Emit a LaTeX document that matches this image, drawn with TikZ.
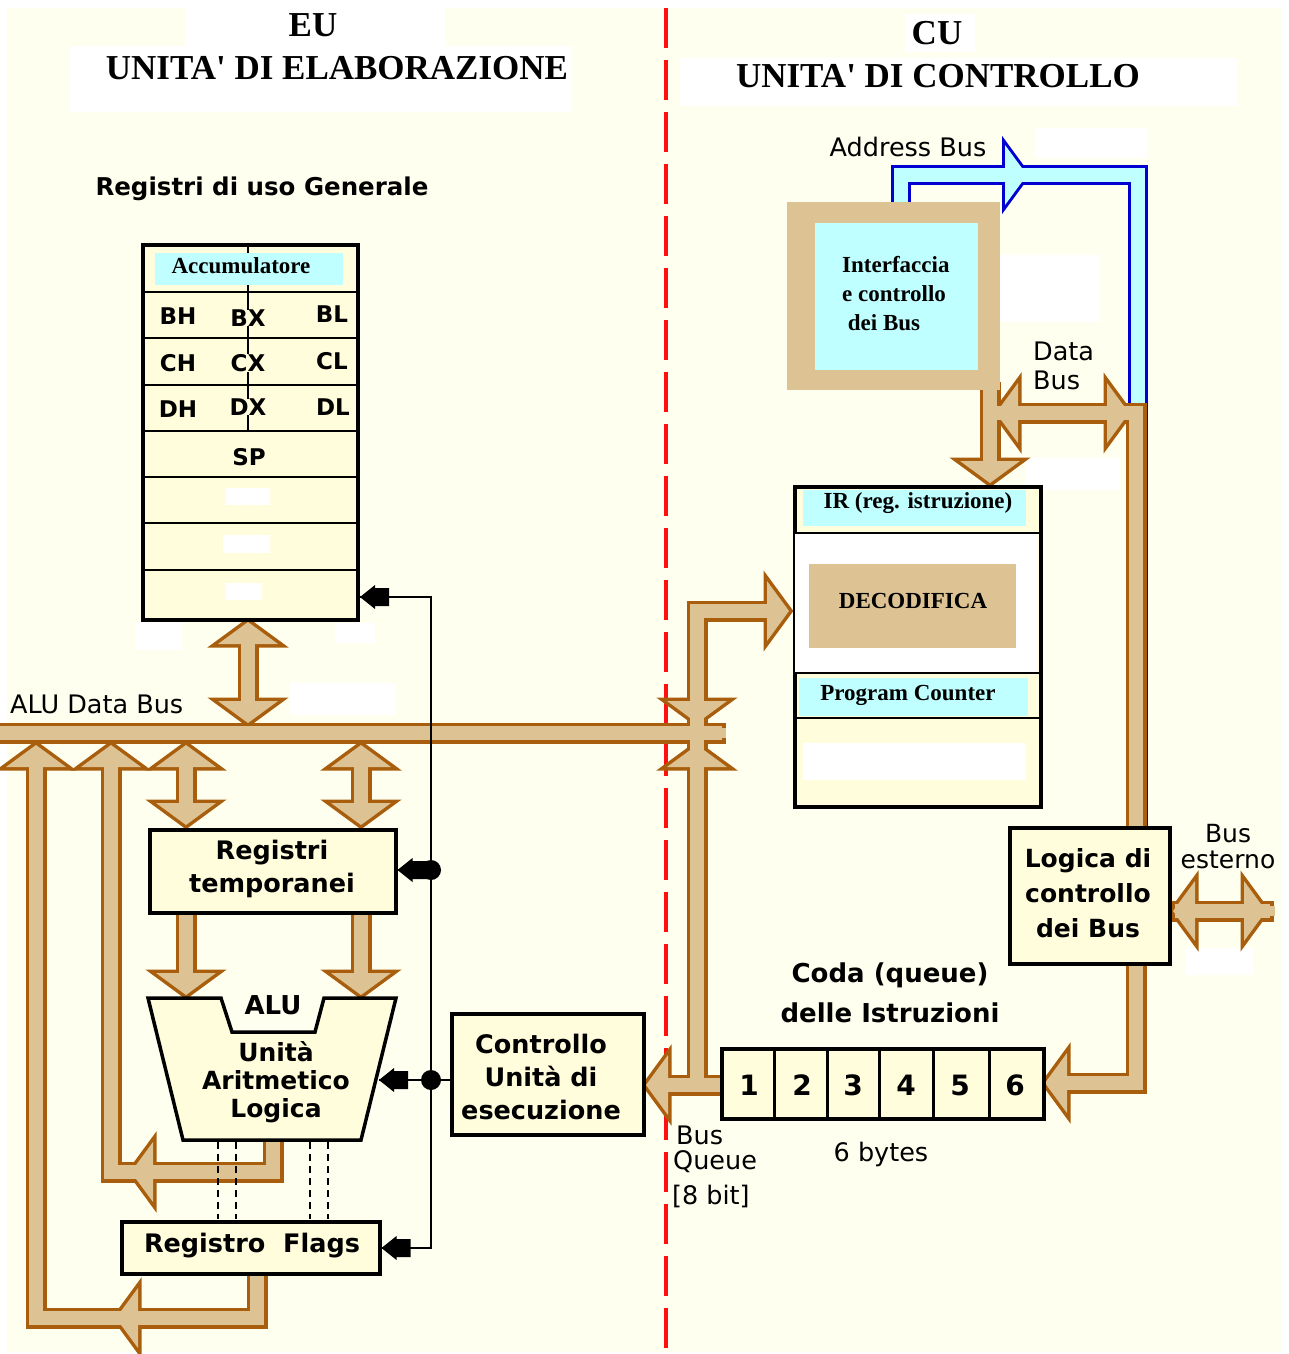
\documentclass[tikz,border=0pt]{standalone}
\usepackage{fontspec}
\setmainfont{Liberation Serif}
\setsansfont{DejaVu Sans}
\newfontfamily\ttlfont{Liberation Serif}
\usetikzlibrary{calc}
\definecolor{bg}{HTML}{FFFFF0}
\definecolor{boxf}{HTML}{FFFDDC}
\definecolor{bust}{HTML}{DDC393}
\definecolor{busb}{HTML}{A85E0C}
\definecolor{cy}{HTML}{C0FFFF}
\definecolor{bl}{HTML}{0000D0}
\definecolor{rd}{HTML}{FF1010}
% bus geometry helpers (pixel coordinates, y downwards)
\newcommand\vsh[3]{(#1-7,#2) rectangle (#1+7,#3)}
\newcommand\hsh[3]{(#2,#1-7) rectangle (#3,#1+7)}
\newcommand\hdU[2]{(#1,#2) -- (#1+30,#2+22) -- (#1-30,#2+22) -- cycle}
\newcommand\hdD[2]{(#1,#2) -- (#1+30,#2-22) -- (#1-30,#2-22) -- cycle}
\newcommand\hdL[2]{(#1,#2) -- (#1+22,#2-30) -- (#1+22,#2+30) -- cycle}
\newcommand\hdR[2]{(#1,#2) -- (#1-22,#2-30) -- (#1-22,#2+30) -- cycle}
\newcommand\adbus[1]{%
  \path[#1] \vsh{901}{168}{210};
  \path[#1] \hsh{175}{894}{1145};
  \path[#1] \vsh{1138}{168}{830};
  \path[#1] \hdR{1027}{175};
}
\newcommand\tanbus[1]{%
  % ALU data bus
  \path[#1] \hsh{733}{-10}{722};
  \path[#1] \vsh{248}{630}{712};
  \path[#1] \hdU{248}{622};
  \path[#1] \hdD{248}{723};
  % branch 1 (flags)
  \path[#1] \hdU{36}{745};
  \path[#1] \vsh{36}{760}{1325};
  \path[#1] \hsh{1318}{29}{264};
  \path[#1] \vsh{257}{1265}{1325};
  \path[#1] \hdL{116}{1318};
  % branch 2 (ALU result)
  \path[#1] \hdU{111}{745};
  \path[#1] \vsh{111}{760}{1179};
  \path[#1] \hsh{1172}{104}{280};
  \path[#1] \vsh{273}{1135}{1179};
  \path[#1] \hdL{131}{1172};
  % branch 3
  \path[#1] \hdU{186}{745};
  \path[#1] \vsh{186}{760}{810};
  \path[#1] \hdD{186}{825};
  \path[#1] \vsh{186}{905}{980};
  \path[#1] \hdD{186}{995};
  % branch 4
  \path[#1] \hdU{361}{745};
  \path[#1] \vsh{361}{760}{810};
  \path[#1] \hdD{361}{825};
  \path[#1] \vsh{361}{905}{980};
  \path[#1] \hdD{361}{995};
  % CU vertical bus
  \path[#1] \vsh{697}{604}{1092};
  \path[#1] \hsh{611}{690}{772};
  \path[#1] \hdR{789}{611};
  \path[#1] \hdD{697}{723};
  \path[#1] \hdU{697}{745};
  \path[#1] \hsh{1085}{660}{725};
  \path[#1] \hdL{646}{1085};
  % data bus
  \path[#1] \vsh{990}{385}{470};
  \path[#1] \hdD{990}{483};
  \path[#1] \hsh{413}{995}{1130};
  \path[#1] \hdL{996}{413};
  \path[#1] \hdR{1129}{413};
  \path[#1] \vsh{1136}{406}{1090};
  \path[#1] \hsh{1083}{1060}{1143};
  \path[#1] \hdL{1045}{1083};
  % bus esterno
  \path[#1] \hsh{911}{1175}{1270};
  \path[#1] \hdL{1173}{911};
  \path[#1] \hdR{1266}{911};
}
\tikzset{
  box/.style={draw=black, fill=boxf, line width=3.5pt, inner sep=0pt},
  busout/.style={fill=bust, draw=busb, line width=7pt},
  busin/.style={fill=bust},
  adout/.style={fill=cy, draw=bl, line width=6pt},
  adin/.style={fill=cy},
  ctl/.style={line width=2pt, draw=black},
  rowline/.style={line width=2pt, draw=black},
  tser/.style={font=\fontsize{23}{29}\selectfont\bfseries\rmfamily, inner sep=0pt, align=center},
  ttl/.style={font=\fontsize{35}{42}\selectfont\bfseries\ttlfont, inner sep=0pt},
  sb/.style={font=\fontsize{25.5}{33}\selectfont\bfseries\sffamily, inner sep=0pt, align=center},
  sr/.style={font=\fontsize{25.5}{29}\selectfont\sffamily, inner sep=0pt, align=left},
  regl/.style={font=\fontsize{23}{26}\selectfont\bfseries\sffamily, inner sep=0pt},
  qnum/.style={font=\fontsize{28}{30}\selectfont\bfseries\sffamily, inner sep=0pt},
  whitep/.style={fill=white},
  ctip/.pic={\fill (0,0) -- (15,12) -- (15,9) -- (29,9) -- (29,-9) -- (15,-9) -- (15,-12) -- cycle;}
}
\begin{document}
\begin{tikzpicture}[x=1pt,y=-1pt]
\useasboundingbox (0,0) rectangle (1289,1354);
\fill[white] (0,0) rectangle (1289,1354);
\fill[bg] (7,8) rectangle (1281,1352);
% white patches of the original
\fill[whitep] (185,8) rectangle (445,46);
\fill[whitep] (70,46) rectangle (572,112);
\fill[whitep] (905,14) rectangle (975,52);
\fill[whitep] (680,58) rectangle (1237,106);
\fill[whitep] (1035,128) rectangle (1147,158);
\fill[whitep] (1000,255) rectangle (1100,322);
\fill[whitep] (1025,458) rectangle (1120,490);
\fill[whitep] (135,622) rectangle (182,650);
\fill[whitep] (335,623) rectangle (375,643);
\fill[whitep] (290,683) rectangle (395,715);
\fill[whitep] (1185,948) rectangle (1253,975);

% dividing line
\draw[rd, line width=4.5pt, dash pattern=on 40pt off 12pt] (666,8) -- (666,1354);

% buses
\adbus{adout}
\adbus{adin}
\tanbus{busout}
\tanbus{busin}
% open bus ends
\fill[bust] (720,728) rectangle (726,738);
\fill[bust] (1266,906) rectangle (1275,916);

% titles
\node[ttl] (t-eu) at (313,25) {EU};
\node[ttl] (t-eu2) at (337,68) {UNITA' DI ELABORAZIONE};
\node[ttl] (t-cu) at (937,33) {CU};
\node[ttl] (t-cu2) at (938,76) {UNITA' DI CONTROLLO};
\node[sb, font=\fontsize{24.5}{28}\selectfont\bfseries\sffamily] (t-rg) at (262,189) {Registri di uso Generale};

% register file
\node[box, line width=4pt, minimum width=215pt, minimum height=375pt, anchor=north west] (rf) at (141,243) {};
\draw[line width=1.5pt] (248,245) -- (248,431);
\foreach \yy in {292,338,385,431,477,523,570}
  \draw[rowline] (rf.west |- 0,\yy) -- (rf.east |- 0,\yy);
\fill[cy] (155,253) rectangle (343,285);
\node[tser] (acc) at (241,266) {Accumulatore};
\node[regl] (bh) at (178,316) {BH};
\node[regl, fill=boxf] (bx) at (248,318) {BX};
\node[regl] (bl) at (332,314) {BL};
\node[regl] (ch) at (178,363) {CH};
\node[regl, fill=boxf] (cx) at (248,363) {CX};
\node[regl] (cl) at (332,361) {CL};
\node[regl] (dh) at (178,409) {DH};
\node[regl, fill=boxf] (dx) at (248,407) {DX};
\node[regl] (dl) at (333,407) {DL};
\node[regl] (sp) at (249,457) {SP};
\fill[whitep] (226,488) rectangle (270,505);
\fill[whitep] (223,535) rectangle (270,553);
\fill[whitep] (226,583) rectangle (262,600);

% EU boxes
\node[box, minimum width=246pt, minimum height=83pt, anchor=north west] (rt) at (148,828) {};
\node[sb] (rt-l) at (272,869) {Registri\\temporanei};
\draw[box, line join=miter] (148,998) -- (221,998) -- (232,1032) -- (315,1032) -- (324,998) -- (396,998) -- (361,1140) -- (183,1140) -- cycle;
\node[sb, font=\fontsize{26}{30}\selectfont\bfseries\sffamily] (alu-t) at (273,1005) {ALU};
\node[sb, font=\fontsize{25}{28}\selectfont\bfseries\sffamily] (alu) at (276,1082) {Unità\\Aritmetico\\Logica};
\coordinate (aluR) at (379,1080);
\node[box, minimum width=258pt, minimum height=52pt, anchor=north west] (fl) at (120,1220) {};
\node[sb] (fl-l) at (252,1246) {Registro~~Flags};
\node[box, minimum width=192pt, minimum height=121pt, anchor=north west] (ce) at (450,1012) {};
\node[sb] (ce-l) at (541,1077) {Controllo\\Unità di\\esecuzione};
\foreach \xx in {218,236,310,328}
  \draw[line width=1.5pt, dash pattern=on 7pt off 5pt] (\xx,1142) -- (\xx,1219);

% control lines
\coordinate (ct) at (431,597);
\coordinate (cb) at (431,1248);
\coordinate (d1) at (431,870);
\coordinate (d2) at (431,1080);
\draw[ctl] (rf.east |- ct) -- (ct) -- (cb) -- (fl.east |- cb);
\draw[ctl] (d1) -- (rt.east |- d1);
\draw[ctl] (ce.west |- d2) -- (aluR);
\pic at (rf.east |- ct) {ctip};
\pic at (rt.east |- d1) {ctip};
\pic at (aluR) {ctip};
\pic at (fl.east |- cb) {ctip};
\fill (d1) circle (10pt);
\fill (d2) circle (10pt);

% CU: interface
\node[fill=bust, inner sep=0pt, minimum width=213pt, minimum height=188pt, anchor=north west] (ifo) at (787,202) {};
\node[fill=cy, inner sep=0pt, minimum width=163pt, minimum height=147pt, anchor=north west] (ifc) at (815,223) {};
\node[tser, align=left, anchor=west] (ifc-l) at (842,294) {Interfaccia\\e controllo\\\ dei Bus};

% IR / decode box
\node[box, line width=4pt, minimum width=246pt, minimum height=320pt, anchor=north west] (ir) at (793,485) {};
\fill[white] (795,534) rectangle (1037,672);
\fill[cy] (803,490) rectangle (1026,526);
\fill[cy] (799,678) rectangle (1028,716);
\fill[white] (803,743) rectangle (1026,780);
\foreach \yy in {533,673,718}
  \draw[rowline] (ir.west |- 0,\yy) -- (ir.east |- 0,\yy);
\node[fill=bust, inner sep=0pt, minimum width=207pt, minimum height=84pt, anchor=north west] (dec) at (809,564) {};
\node[tser] (ir-l) at (918,503) {IR (reg. istruzione)};
\node[tser] (dec-l) at (913,601) {DECODIFICA};
\node[tser] (pc-l) at (908,695) {Program Counter};

% queue
\node[box, minimum width=322pt, minimum height=70pt, anchor=north west] (q) at (720,1047) {};
\foreach \xx in {774,827,879,933,989}
  \draw[line width=3pt] (\xx,0 |- q.north) -- (\xx,0 |- q.south);
\node[qnum] (q1) at (749,1085) {1};
\node[qnum] (q2) at (802,1085) {2};
\node[qnum] (q3) at (853,1085) {3};
\node[qnum] (q4) at (906,1085) {4};
\node[qnum] (q5) at (960,1085) {5};
\node[qnum] (q6) at (1015,1085) {6};
\node[sb, font=\fontsize{26}{40}\selectfont\bfseries\sffamily] (coda) at (890,993) {Coda (queue)\\delle Istruzioni};

% bus logic
\node[box, minimum width=160pt, minimum height=136pt, anchor=north west] (lg) at (1008,826) {};
\node[sb, font=\fontsize{25}{35}\selectfont\bfseries\sffamily] (lg-l) at (1088,893) {Logica di\\controllo\\dei Bus};

% bus labels
\node[sr] (l-ab) at (908,147) {Address Bus};
\node[sr, anchor=west] (l-db) at (1033,366) {Data\\Bus};
\node[sr, align=center, font=\fontsize{25}{26}\selectfont\sffamily] (l-be) at (1228,847) {Bus\\esterno};
\node[sr, anchor=west] (l-alu) at (10,704) {ALU Data Bus};
\node[sr, anchor=west] (l-bq1) at (676,1135) {Bus};
\node[sr, anchor=west] (l-bq2) at (673,1162) {Queue};
\node[sr, anchor=west] (l-bq3) at (672,1196) {[8 bit]};
\node[sr] (l-6b) at (881,1154) {6 bytes};
\end{tikzpicture}
\end{document}
